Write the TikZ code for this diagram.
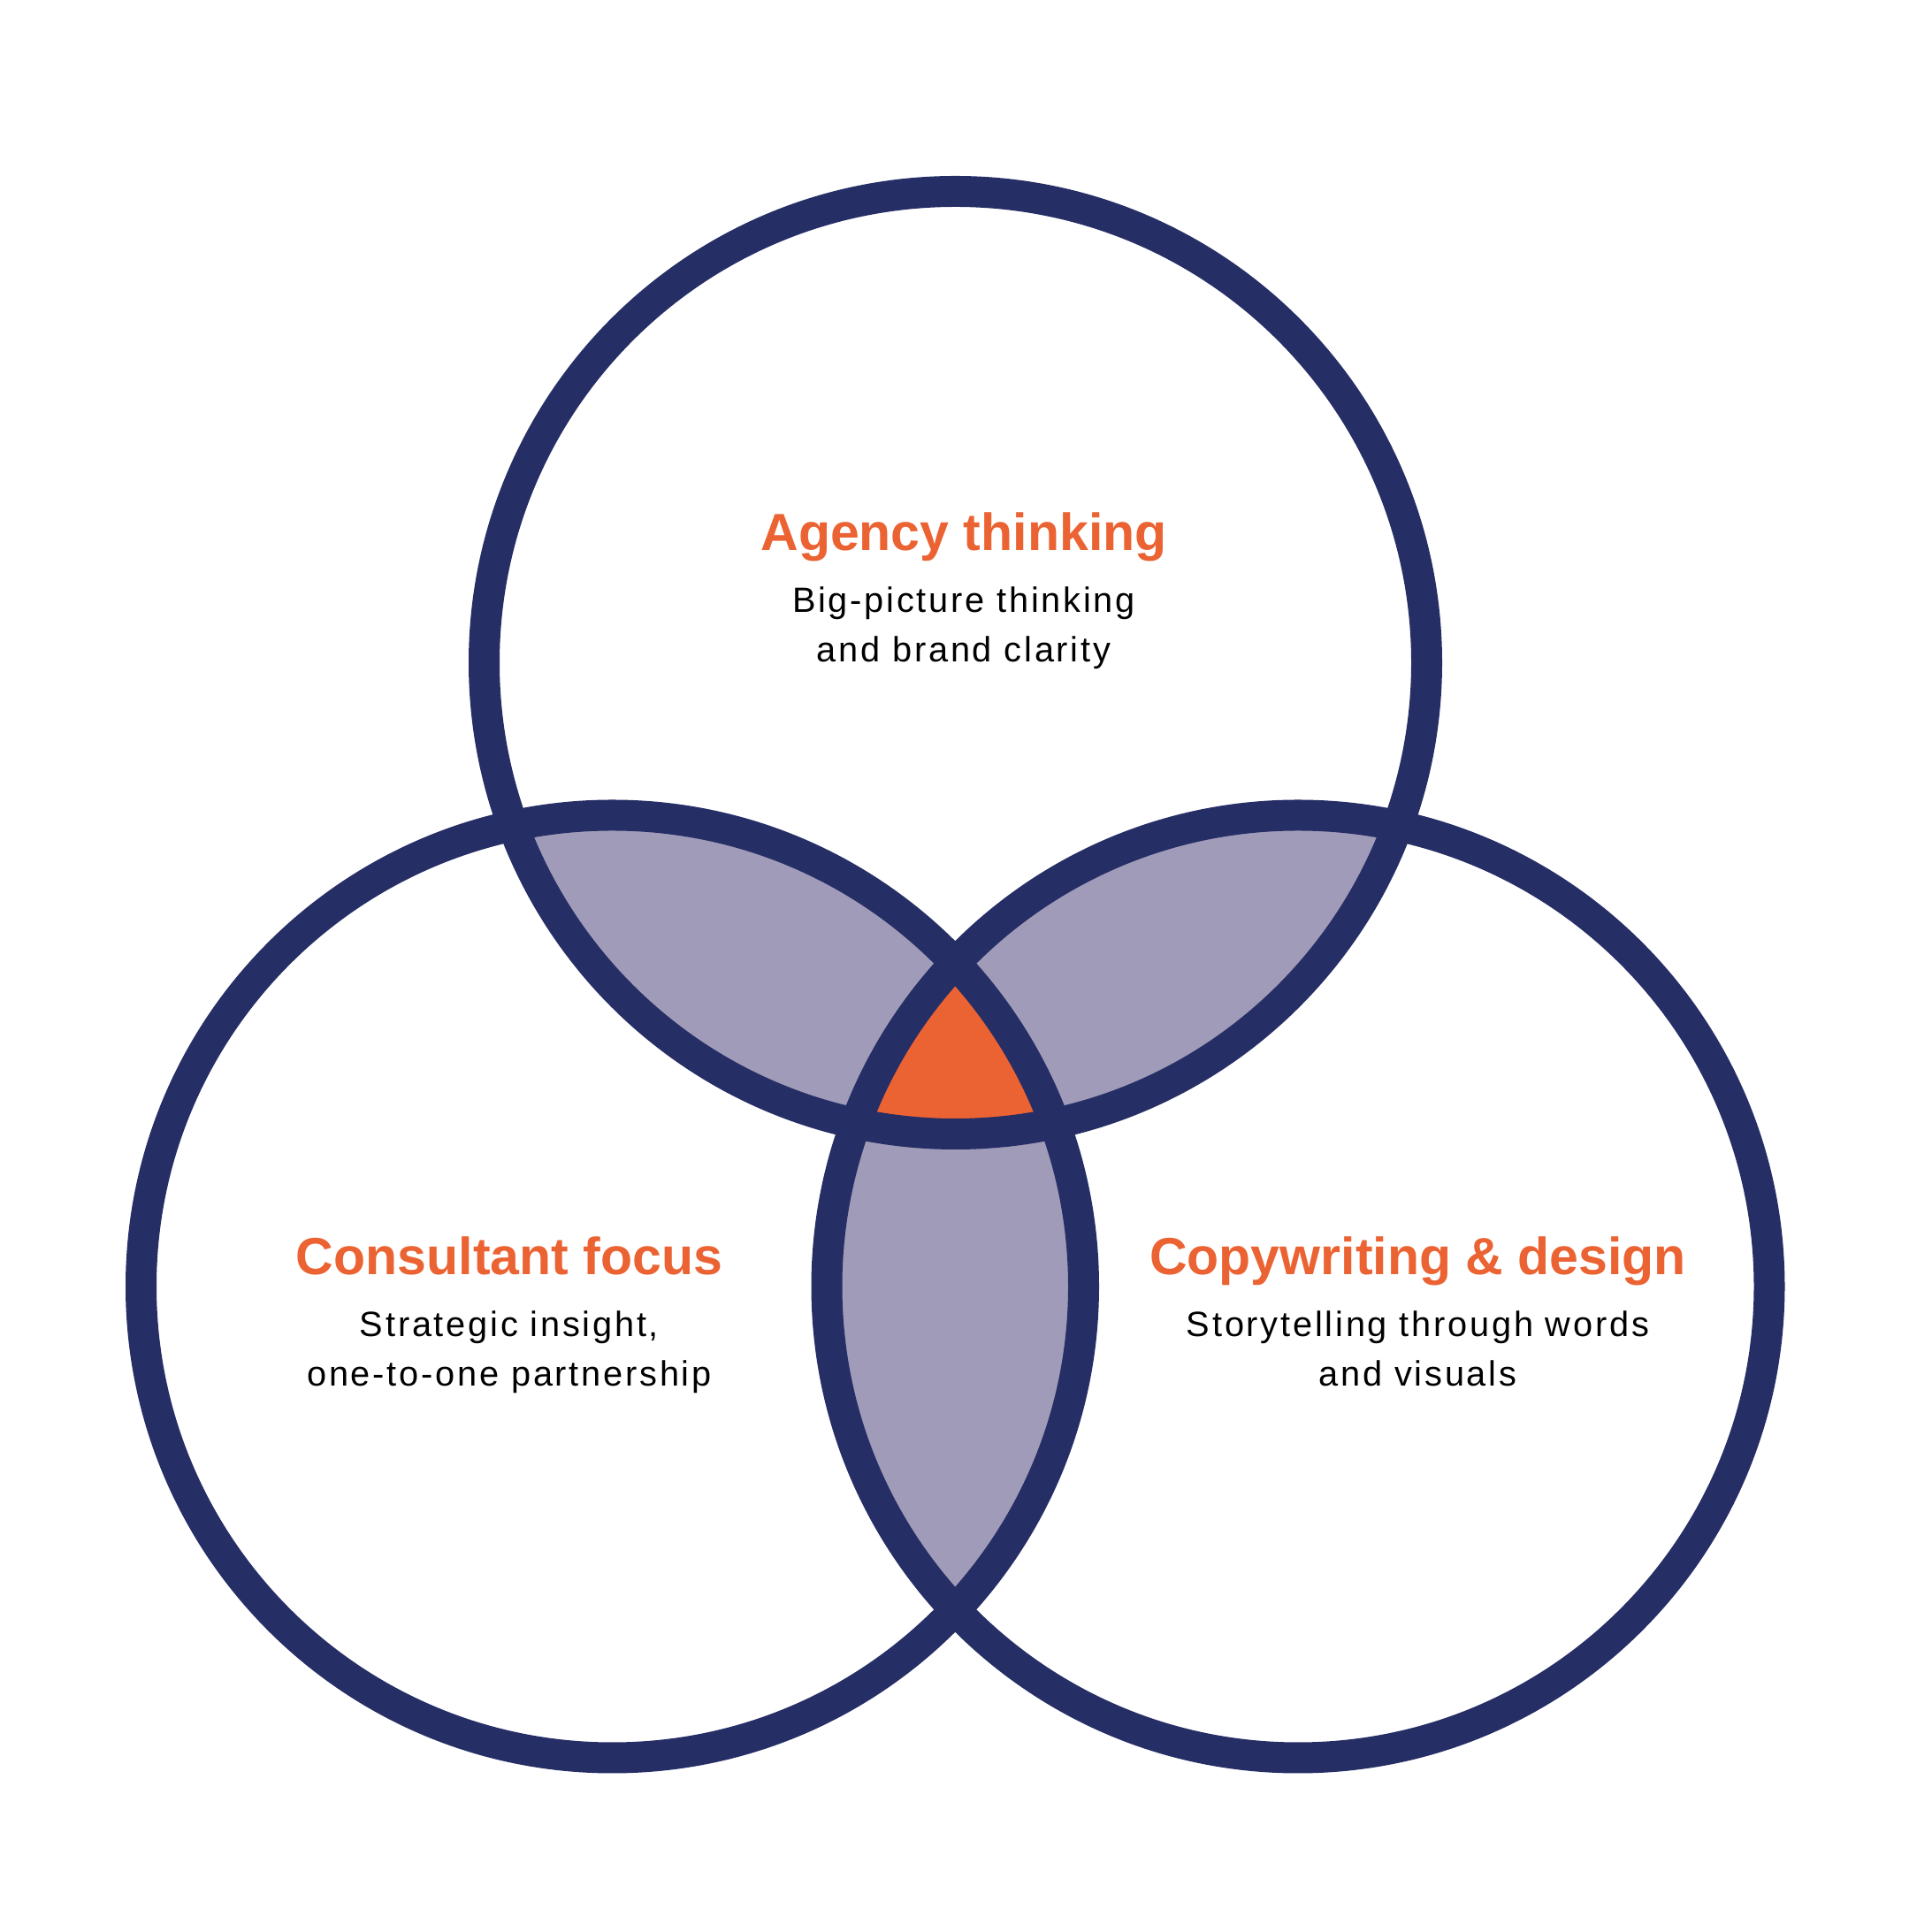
\documentclass[tikz,border=0pt]{standalone}
\usepackage{fontspec}
\setmainfont{Liberation Sans}
\newfontfamily\bodyfont[LetterSpace=7]{Liberation Sans}
\usepackage{xcolor}
\usetikzlibrary{positioning}
\definecolor{vennnavy}{HTML}{262E66}
\definecolor{vennlilac}{HTML}{A09BB8}
\definecolor{vennorange}{HTML}{EB6333}
\newcommand{\vennrad}{5.33}
\tikzset{
  ring/.style={draw=vennnavy, line width=0.35cm},
  overlap/.style={fill=vennlilac},
  core/.style={fill=vennorange},
  headline/.style={font=\fontsize{16.8}{20}\selectfont\bfseries, text=vennorange, inner sep=0pt, anchor=base},
  blurb/.style={font=\bodyfont\fontsize{11.3}{16.1}\selectfont, text=black, align=center, inner sep=0pt, anchor=base}
}
\begin{document}
\begin{tikzpicture}[x=10mm,y=10mm]
    \useasboundingbox (0,0) rectangle (21.85,21.85);
		\coordinate (agency) at(10.805,14.355);
		\coordinate (consult) at(6.925,7.30);
		\coordinate (copy) at(14.68,7.30);

    % pairwise overlaps
    \begin{scope}
      \clip (agency) circle[radius=\vennrad];
      \fill[overlap] (consult) circle[radius=\vennrad];
      \fill[overlap] (copy) circle[radius=\vennrad];
    \end{scope}
    \begin{scope}
      \clip (consult) circle[radius=\vennrad];
      \fill[overlap] (copy) circle[radius=\vennrad];
    \end{scope}
    % all three
    \begin{scope}
      \clip (agency) circle[radius=\vennrad];
      \clip (consult) circle[radius=\vennrad];
      \fill[core] (copy) circle[radius=\vennrad];
    \end{scope}

		\draw[ring] (agency) circle[radius=\vennrad];
		\draw[ring] (consult) circle[radius=\vennrad];
		\draw[ring] (copy) circle[radius=\vennrad];

    % base of a two-line blurb is its last line
    \node[headline] (agencyhead) at(10.90,15.62) {Agency thinking};
    \node[blurb] (agencytxt) at([yshift=-1.257cm]agencyhead.base) {Big-picture thinking\\and brand clarity};
    \node[headline] (consulthead) at(5.76,7.43) {Consultant focus};
    \node[blurb] (consulttxt) at([yshift=-1.257cm]consulthead.base) {Strategic insight,\\one-to-one partnership};
    \node[headline] (copyhead) at(16.035,7.43) {Copywriting \& design};
    \node[blurb] (copytxt) at([yshift=-1.257cm]copyhead.base) {Storytelling through words\\and visuals};
	\end{tikzpicture}
\end{document}
